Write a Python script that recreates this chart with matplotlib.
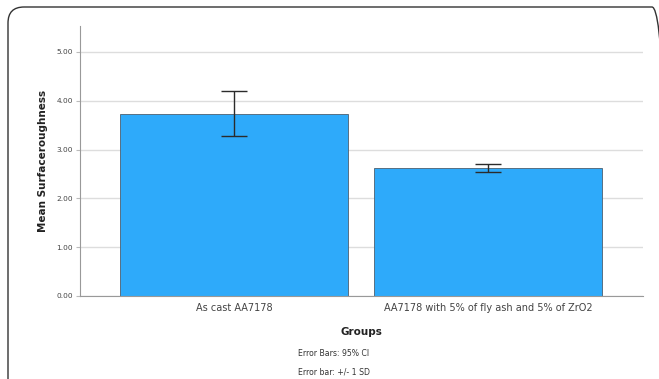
import matplotlib.pyplot as plt
import numpy as np
from matplotlib.patches import FancyBboxPatch

# data
groups = ["As cast AA7178", "AA7178 with 5% of fly ash and 5% of ZrO2"]
means = [3.73, 2.62]
ci_low = [3.28, 2.53]
ci_high = [4.20, 2.71]
yticks = [0.0, 1.0, 2.0, 3.0, 4.0, 5.0]

W, H = 659, 379
fig = plt.figure(figsize=(W / 100, H / 100), dpi=100)
fig.patch.set_facecolor("white")

# rounded frame round the whole chart (cut off at the right and bottom)
frame = FancyBboxPatch((8, -40), 660, H - 7 + 40,
                       boxstyle="round,pad=0,rounding_size=16",
                       transform=None, facecolor="none",
                       edgecolor="#333333", linewidth=1.0)
fig.patches.append(frame)

ax = fig.add_axes([80 / W, 1 - 296 / H, (643 - 80) / W, (296 - 26) / H])

x = np.arange(len(groups))
ax.bar(x, means, width=0.898, color="#2eaafa", edgecolor="#4d6070",
       linewidth=0.6, zorder=2)

m = np.array(means)
yerr = [m - np.array(ci_low), np.array(ci_high) - m]
ax.errorbar(x, means, yerr=yerr, fmt="none", ecolor="#2b2b2b",
            elinewidth=1.0, capsize=9.7, capthick=1.0, zorder=3)

ax.set_xlim(-0.606, 1.61)
ax.set_ylim(0, 5.53)
ax.set_yticks(yticks)
ax.set_yticklabels(["%.2f" % v for v in yticks], fontsize=5.3, color="#444444")
ax.set_xticks(x)
ax.set_xticklabels(groups, fontsize=7, color="#444444")
ax.tick_params(axis="x", length=0, pad=5)
ax.tick_params(axis="y", length=3, color="#bbbbbb", pad=2)

ax.yaxis.grid(True, color="#dddddd", linewidth=1.0, zorder=0)
ax.set_axisbelow(True)
for s in ["top", "right"]:
    ax.spines[s].set_visible(False)
for s in ["left", "bottom"]:
    ax.spines[s].set_color("#999999")
    ax.spines[s].set_linewidth(0.8)

ax.set_ylabel("Mean Surfaceroughness", fontsize=7.5, fontweight="bold",
              color="#222222", labelpad=6)

fig.text(361 / W, 1 - 332 / H, "Groups", fontsize=7.5, fontweight="bold",
         color="#222222", ha="center", va="center")
fig.text(298 / W, 1 - 354 / H, "Error Bars: 95% CI", fontsize=5.6,
         color="#333333", ha="left", va="center")
fig.text(298 / W, 1 - 372 / H, "Error bar: +/- 1 SD", fontsize=5.6,
         color="#333333", ha="left", va="center")

fig.savefig("out.png", dpi=100)
